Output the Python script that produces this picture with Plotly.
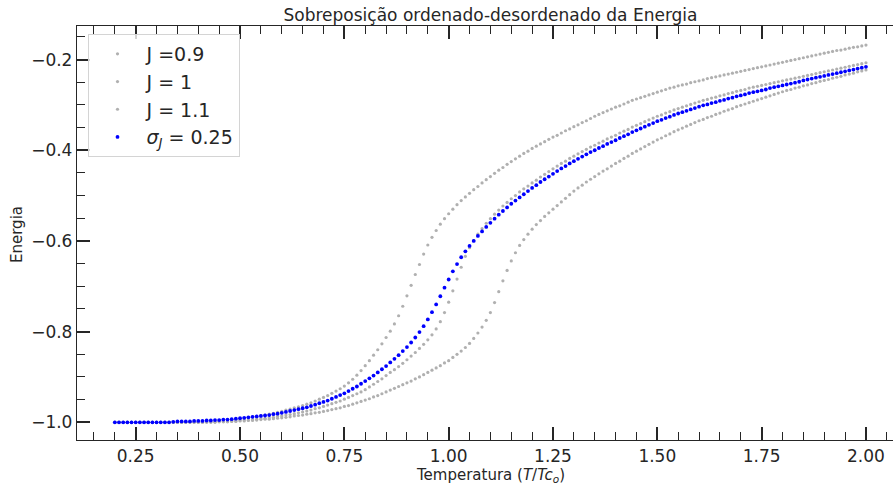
import plotly.graph_objects as go

# Temperature sweep (T / Tc_o)
temperatura = [
    0.20, 0.21, 0.22, 0.23, 0.24, 0.25, 0.26, 0.27, 0.28, 0.29,
    0.30, 0.31, 0.32, 0.33, 0.34, 0.35, 0.36, 0.37, 0.38, 0.39,
    0.40, 0.41, 0.42, 0.43, 0.44, 0.45, 0.46, 0.47, 0.48, 0.49,
    0.50, 0.51, 0.52, 0.53, 0.54, 0.55, 0.56, 0.57, 0.58, 0.59,
    0.60, 0.61, 0.62, 0.63, 0.64, 0.65, 0.66, 0.67, 0.68, 0.69,
    0.70, 0.71, 0.72, 0.73, 0.74, 0.75, 0.76, 0.77, 0.78, 0.79,
    0.80, 0.81, 0.82, 0.83, 0.84, 0.85, 0.86, 0.87, 0.88, 0.89,
    0.90, 0.91, 0.92, 0.93, 0.94, 0.95, 0.96, 0.97, 0.98, 0.99,
    1.00, 1.01, 1.02, 1.03, 1.04, 1.05, 1.06, 1.07, 1.08, 1.09,
    1.10, 1.11, 1.12, 1.13, 1.14, 1.15, 1.16, 1.17, 1.18, 1.19,
    1.20, 1.21, 1.22, 1.23, 1.24, 1.25, 1.26, 1.27, 1.28, 1.29,
    1.30, 1.31, 1.32, 1.33, 1.34, 1.35, 1.36, 1.37, 1.38, 1.39,
    1.40, 1.41, 1.42, 1.43, 1.44, 1.45, 1.46, 1.47, 1.48, 1.49,
    1.50, 1.51, 1.52, 1.53, 1.54, 1.55, 1.56, 1.57, 1.58, 1.59,
    1.60, 1.61, 1.62, 1.63, 1.64, 1.65, 1.66, 1.67, 1.68, 1.69,
    1.70, 1.71, 1.72, 1.73, 1.74, 1.75, 1.76, 1.77, 1.78, 1.79,
    1.80, 1.81, 1.82, 1.83, 1.84, 1.85, 1.86, 1.87, 1.88, 1.89,
    1.90, 1.91, 1.92, 1.93, 1.94, 1.95, 1.96, 1.97, 1.98, 1.99,
    2.00,
]

# Ordered system, J = 0.9
energia_j09 = [
    -1.000, -1.000, -1.000, -1.000, -1.000, -1.000, -1.000, -1.000, -1.000, -1.000,
    -1.000, -1.000, -1.000, -1.000, -1.000, -1.000, -1.000, -1.000, -0.999, -0.999,
    -0.999, -0.998, -0.998, -0.997, -0.997, -0.996, -0.995, -0.995, -0.994, -0.993,
    -0.992, -0.991, -0.990, -0.988, -0.987, -0.985, -0.984, -0.982, -0.980, -0.978,
    -0.976, -0.973, -0.971, -0.968, -0.966, -0.963, -0.960, -0.957, -0.953, -0.949,
    -0.945, -0.941, -0.936, -0.931, -0.926, -0.920, -0.913, -0.905, -0.896, -0.886,
    -0.875, -0.864, -0.852, -0.840, -0.827, -0.813, -0.799, -0.783, -0.765, -0.744,
    -0.721, -0.698, -0.674, -0.652, -0.629, -0.609, -0.592, -0.577, -0.563, -0.551,
    -0.540, -0.530, -0.520, -0.511, -0.503, -0.495, -0.487, -0.480, -0.472, -0.465,
    -0.458, -0.451, -0.444, -0.438, -0.431, -0.425, -0.419, -0.413, -0.407, -0.402,
    -0.396, -0.391, -0.386, -0.381, -0.376, -0.371, -0.367, -0.362, -0.357, -0.353,
    -0.348, -0.344, -0.339, -0.335, -0.330, -0.325, -0.321, -0.317, -0.313, -0.309,
    -0.305, -0.302, -0.298, -0.294, -0.290, -0.287, -0.284, -0.281, -0.278, -0.275,
    -0.272, -0.269, -0.266, -0.263, -0.261, -0.258, -0.256, -0.254, -0.251, -0.249,
    -0.247, -0.245, -0.242, -0.240, -0.238, -0.236, -0.234, -0.232, -0.230, -0.228,
    -0.226, -0.224, -0.222, -0.220, -0.218, -0.216, -0.214, -0.212, -0.210, -0.208,
    -0.206, -0.204, -0.202, -0.200, -0.198, -0.196, -0.194, -0.192, -0.190, -0.188,
    -0.186, -0.184, -0.182, -0.180, -0.179, -0.177, -0.175, -0.173, -0.172, -0.170,
    -0.168,
]

# Ordered system, J = 1
energia_j10 = [
    -1.000, -1.000, -1.000, -1.000, -1.000, -1.000, -1.000, -1.000, -1.000, -1.000,
    -1.000, -1.000, -1.000, -1.000, -1.000, -1.000, -1.000, -1.000, -1.000, -1.000,
    -1.000, -1.000, -0.999, -0.999, -0.999, -0.998, -0.998, -0.998, -0.997, -0.997,
    -0.996, -0.995, -0.995, -0.994, -0.993, -0.992, -0.991, -0.990, -0.989, -0.987,
    -0.986, -0.984, -0.983, -0.981, -0.979, -0.977, -0.975, -0.973, -0.970, -0.968,
    -0.965, -0.962, -0.959, -0.956, -0.953, -0.949, -0.945, -0.941, -0.937, -0.933,
    -0.928, -0.922, -0.916, -0.910, -0.904, -0.897, -0.890, -0.884, -0.877, -0.870,
    -0.862, -0.854, -0.846, -0.837, -0.828, -0.818, -0.807, -0.794, -0.778, -0.758,
    -0.735, -0.710, -0.684, -0.658, -0.634, -0.615, -0.599, -0.585, -0.573, -0.561,
    -0.551, -0.541, -0.532, -0.523, -0.515, -0.507, -0.500, -0.492, -0.485, -0.479,
    -0.472, -0.466, -0.459, -0.453, -0.447, -0.441, -0.435, -0.429, -0.424, -0.418,
    -0.413, -0.408, -0.403, -0.398, -0.393, -0.389, -0.384, -0.380, -0.375, -0.371,
    -0.367, -0.362, -0.358, -0.354, -0.349, -0.345, -0.341, -0.337, -0.333, -0.329,
    -0.325, -0.322, -0.318, -0.315, -0.311, -0.308, -0.305, -0.302, -0.299, -0.296,
    -0.293, -0.290, -0.288, -0.285, -0.283, -0.280, -0.278, -0.275, -0.273, -0.270,
    -0.268, -0.266, -0.263, -0.261, -0.259, -0.257, -0.255, -0.253, -0.251, -0.249,
    -0.247, -0.245, -0.243, -0.241, -0.239, -0.237, -0.235, -0.233, -0.231, -0.229,
    -0.227, -0.225, -0.223, -0.221, -0.219, -0.217, -0.215, -0.213, -0.211, -0.209,
    -0.207,
]

# Ordered system, J = 1.1
energia_j11 = [
    -1.000, -1.000, -1.000, -1.000, -1.000, -1.000, -1.000, -1.000, -1.000, -1.000,
    -1.000, -1.000, -1.000, -1.000, -1.000, -1.000, -1.000, -1.000, -1.000, -1.000,
    -1.000, -1.000, -1.000, -1.000, -1.000, -0.999, -0.999, -0.999, -0.998, -0.998,
    -0.997, -0.997, -0.996, -0.996, -0.995, -0.994, -0.993, -0.993, -0.992, -0.991,
    -0.990, -0.989, -0.988, -0.986, -0.985, -0.984, -0.982, -0.981, -0.979, -0.978,
    -0.976, -0.974, -0.972, -0.970, -0.968, -0.965, -0.963, -0.960, -0.957, -0.954,
    -0.951, -0.948, -0.944, -0.941, -0.937, -0.933, -0.929, -0.925, -0.921, -0.917,
    -0.913, -0.909, -0.904, -0.900, -0.895, -0.890, -0.885, -0.880, -0.875, -0.869,
    -0.864, -0.857, -0.850, -0.843, -0.835, -0.826, -0.815, -0.803, -0.790, -0.775,
    -0.758, -0.736, -0.712, -0.688, -0.665, -0.644, -0.626, -0.610, -0.597, -0.585,
    -0.574, -0.564, -0.555, -0.546, -0.538, -0.530, -0.522, -0.514, -0.506, -0.498,
    -0.490, -0.483, -0.477, -0.470, -0.464, -0.458, -0.452, -0.446, -0.441, -0.435,
    -0.429, -0.424, -0.418, -0.413, -0.407, -0.402, -0.397, -0.392, -0.387, -0.382,
    -0.377, -0.373, -0.368, -0.364, -0.359, -0.355, -0.351, -0.347, -0.343, -0.339,
    -0.335, -0.332, -0.328, -0.325, -0.321, -0.318, -0.314, -0.311, -0.308, -0.304,
    -0.301, -0.298, -0.295, -0.292, -0.289, -0.286, -0.283, -0.280, -0.277, -0.274,
    -0.271, -0.268, -0.266, -0.263, -0.261, -0.258, -0.256, -0.253, -0.251, -0.248,
    -0.246, -0.244, -0.241, -0.239, -0.237, -0.234, -0.232, -0.230, -0.227, -0.225,
    -0.223,
]

# Disordered system, Gaussian J with sigma_J = 0.25
energia_sigma025 = [
    -1.000, -1.000, -1.000, -1.000, -1.000, -1.000, -1.000, -1.000, -1.000, -1.000,
    -1.000, -1.000, -1.000, -1.000, -0.999, -0.998, -0.998, -0.998, -0.998, -0.997,
    -0.997, -0.997, -0.996, -0.996, -0.995, -0.995, -0.994, -0.994, -0.993, -0.992,
    -0.991, -0.990, -0.989, -0.988, -0.987, -0.986, -0.985, -0.984, -0.982, -0.981,
    -0.979, -0.977, -0.975, -0.973, -0.971, -0.969, -0.967, -0.964, -0.961, -0.958,
    -0.955, -0.952, -0.948, -0.944, -0.940, -0.936, -0.931, -0.926, -0.921, -0.915,
    -0.909, -0.903, -0.897, -0.890, -0.883, -0.876, -0.868, -0.860, -0.852, -0.843,
    -0.834, -0.824, -0.813, -0.801, -0.788, -0.773, -0.757, -0.740, -0.722, -0.703,
    -0.685, -0.667, -0.651, -0.636, -0.623, -0.611, -0.600, -0.589, -0.579, -0.569,
    -0.560, -0.551, -0.542, -0.534, -0.526, -0.518, -0.511, -0.504, -0.497, -0.490,
    -0.483, -0.477, -0.470, -0.464, -0.458, -0.452, -0.446, -0.440, -0.435, -0.429,
    -0.424, -0.419, -0.414, -0.409, -0.404, -0.400, -0.395, -0.391, -0.386, -0.382,
    -0.378, -0.373, -0.369, -0.365, -0.360, -0.356, -0.352, -0.348, -0.344, -0.340,
    -0.336, -0.333, -0.329, -0.326, -0.322, -0.319, -0.316, -0.313, -0.310, -0.307,
    -0.304, -0.301, -0.299, -0.296, -0.294, -0.291, -0.289, -0.286, -0.284, -0.281,
    -0.279, -0.277, -0.274, -0.272, -0.270, -0.268, -0.266, -0.263, -0.261, -0.259,
    -0.257, -0.255, -0.253, -0.251, -0.249, -0.246, -0.244, -0.242, -0.240, -0.238,
    -0.236, -0.234, -0.232, -0.230, -0.228, -0.226, -0.224, -0.222, -0.220, -0.218,
    -0.216,
]

legend_labels = ["J =0.9", "J = 1", "J = 1.1", "<i>σ<sub>J</sub></i> = 0.25"]

FONT = "DejaVu Sans"
INK = "#262626"
GREY = "#b0b0b0"
BLUE = "#0000ff"

W, H = 893, 486
M_L, M_R, M_T, M_B = 77, 0, 26, 46
X_RANGE = [0.1093, 2.0648]
Y_RANGE = [-1.039, -0.126]
PLOT_W = W - M_L - M_R
PLOT_H = H - M_T - M_B

fig = go.Figure()

series = [
    (legend_labels[0], energia_j09, GREY, 3.2),
    (legend_labels[1], energia_j10, GREY, 3.2),
    (legend_labels[2], energia_j11, GREY, 3.2),
    (legend_labels[3], energia_sigma025, BLUE, 3.8),
]
for name, energia, color, size in series:
    fig.add_trace(go.Scatter(
        x=temperatura, y=energia, mode="markers", name=name,
        marker=dict(size=size, color=color, line=dict(width=0)),
    ))

tick_font = dict(family=FONT, size=17, color=INK)

fig.update_layout(
    width=W, height=H,
    margin=dict(l=M_L, r=M_R, t=M_T, b=M_B, pad=0),
    paper_bgcolor="white", plot_bgcolor="white",
    font=dict(family=FONT, color=INK),
    title=dict(
        text="Sobreposição ordenado-desordenado da Energia",
        font=dict(family=FONT, size=17, color=INK),
        x=490.5 / W, xanchor="center", xref="container",
        y=1 - 15 / H, yanchor="middle", yref="container",
    ),
    xaxis=dict(
        range=X_RANGE, showgrid=False, zeroline=False,
        showline=True, linecolor=INK, linewidth=1.3, mirror="ticks",
        ticks="inside", ticklen=13, tickwidth=2, tickcolor=INK,
        tick0=0, dtick=0.25, tickformat=".2f", tickfont=tick_font,
        minor=dict(tick0=0, dtick=0.05, ticks="inside", ticklen=8,
                   tickwidth=1, tickcolor=INK, showgrid=False),
    ),
    yaxis=dict(
        range=Y_RANGE, showgrid=False, zeroline=False,
        showline=True, linecolor=INK, linewidth=1.3, mirror=False,
        ticks="inside", ticklen=13, tickwidth=2, tickcolor=INK,
        tick0=0, dtick=0.2, tickformat=".1f", tickfont=tick_font,
        minor=dict(tick0=0, dtick=0.05, ticks="inside", ticklen=8,
                   tickwidth=1, tickcolor=INK, showgrid=False),
    ),
    yaxis2=dict(
        overlaying="y", side="right", anchor="x", range=Y_RANGE,
        showgrid=False, zeroline=False, showline=False,
        ticks="inside", ticklen=4, tickwidth=2, tickcolor=INK,
        tick0=0, dtick=0.2, showticklabels=False,
    ),
    legend=dict(
        x=(87.5 - M_L) / PLOT_W, y=(H - M_B - 34) / PLOT_H,
        xanchor="left", yanchor="top",
        bgcolor="rgba(255,255,255,0.8)", bordercolor="#d4d4d4", borderwidth=1,
        font=dict(family=FONT, size=19, color=INK),
        itemsizing="trace", itemwidth=48,
    ),
    showlegend=True,
    annotations=[
        dict(
            text="Temperatura (<i>T</i>/<i>Tc<sub>o</sub></i>)",
            xref="paper", yref="paper",
            x=(490.5 - M_L) / PLOT_W, y=(H - M_B - 475) / PLOT_H,
            xanchor="center", yanchor="middle", showarrow=False,
            font=dict(family=FONT, size=15, color=INK),
        ),
        dict(
            text="Energia",
            xref="paper", yref="paper",
            x=(17 - M_L) / PLOT_W, y=(H - M_B - 235) / PLOT_H,
            xanchor="center", yanchor="middle", showarrow=False, textangle=-90,
            font=dict(family=FONT, size=15, color=INK),
        ),
    ],
)

fig.write_html("out.html")
